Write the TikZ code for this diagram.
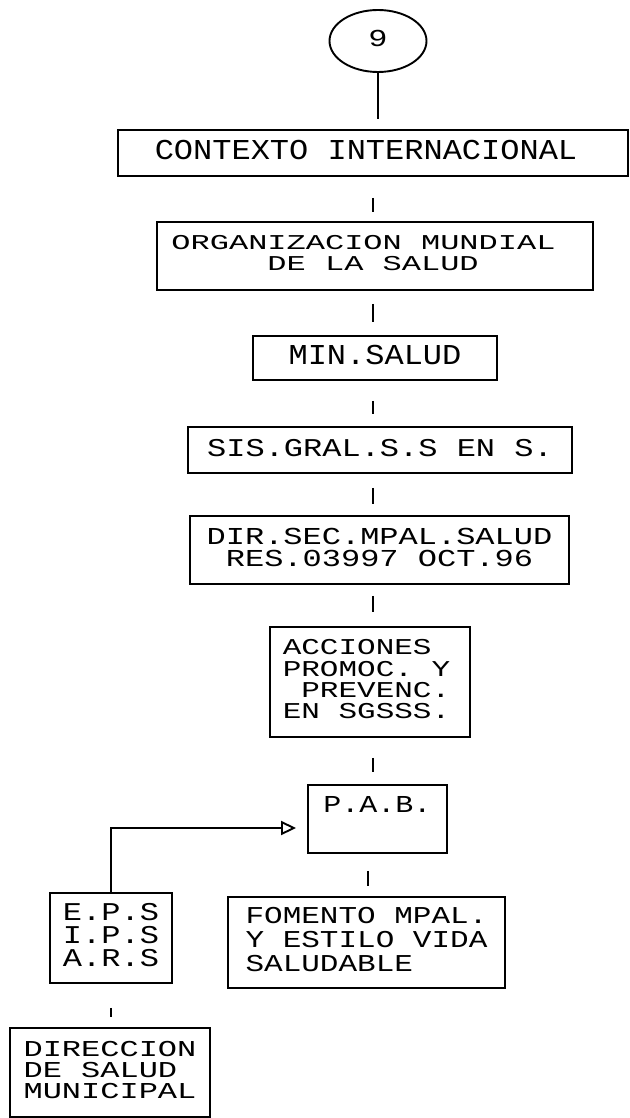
\documentclass[tikz,border=0pt]{standalone}
\usepackage{fontspec}
\usepackage{graphicx}
\usetikzlibrary{shapes.geometric,arrows.meta}
\newfontfamily\dmfont{Liberation Mono}
% size, baselineskip, yscale, left pad, right pad, text
\newcommand{\dm}[6]{{\dmfont\fontsize{#1}{#2}\selectfont\scalebox{1}[#3]{\begin{tabular}{@{\hspace{#4}}l@{\hspace{#5}}}#6\end{tabular}}}}
\tikzset{
  box/.style={draw, rectangle, inner sep=0pt, line width=1.9pt},
  oval/.style={draw, ellipse, inner sep=0pt, line width=1.9pt},
  link/.style={line width=1.9pt},
  flow/.style={line width=1.9pt, -{Triangle[open,length=15pt,width=14pt]}}
}
\begin{document}
\begin{tikzpicture}[x=1pt, y=-1pt]
\path[use as bounding box] (0,0) rectangle (629,1118);
\coordinate (sp) at (373,0);
\coordinate (sp2) at (368,0);

\node[oval, minimum width=97pt, minimum height=62pt] (n9) at (378,41) {\dm{32}{38}{0.76}{0pt}{0pt}{9}};
\node[box, minimum width=510pt, minimum height=46pt] (ctx) at (373,153) {\dm{32}{38}{0.9}{0pt}{14pt}{CONTEXTO INTERNACIONAL}};
\node[box, minimum width=436pt, minimum height=68pt] (oms) at (375,256) {\dm{32}{32}{0.66}{0pt}{23pt}{ORGANIZACION MUNDIAL\\\phantom{XXXXX}DE LA SALUD}};
\node[box, minimum width=244pt, minimum height=44pt] (min) at (375,358) {\dm{32}{38}{0.9}{0pt}{0pt}{MIN.SALUD}};
\node[box, minimum width=384pt, minimum height=46pt] (sis) at (380,450) {\dm{32}{38}{0.8}{0pt}{0pt}{SIS.GRAL.S.S EN S.}};
\node[box, minimum width=379pt, minimum height=68pt] (dir) at (379.5,550) {\dm{32}{26.3}{0.76}{0pt}{0pt}{DIR.SEC.MPAL.SALUD\\\phantom{X}RES.03997 OCT.96}};
\node[box, minimum width=200pt, minimum height=110pt] (acc) at (370,682) {\dm{31}{27.4}{0.73}{0pt}{7pt}{ACCIONES\\PROMOC. Y\\\phantom{X}PREVENC.\\EN SGSSS.}};
\node[box, minimum width=139pt, minimum height=68pt] (pab) at (377.5,819) {\dm{30}{27}{0.81}{0pt}{0pt}{P.A.B.\\\mbox{}}};
\node[box, minimum width=122pt, minimum height=90pt] (eps) at (111,938) {\dm{32}{26}{0.8}{0pt}{0pt}{E.P.S\\I.P.S\\A.R.S}};
\node[box, minimum width=277pt, minimum height=91pt] (fom) at (366.5,942.5) {\dm{31}{30.7}{0.78}{0pt}{0pt}{FOMENTO MPAL.\\Y ESTILO VIDA\\SALUDABLE}};
\node[box, minimum width=200pt, minimum height=89pt] (dsm) at (110,1072.5) {\dm{32}{27.5}{0.71}{0pt}{0pt}{DIRECCION\\DE SALUD\\MUNICIPAL}};

\draw[link, shorten >=10pt] (n9.south) -- (n9.south |- ctx.north);
\draw[link, shorten <=21pt, shorten >=9pt] (ctx.south -| sp) -- (oms.north -| sp);
\draw[link, shorten <=13pt, shorten >=13pt] (oms.south -| sp) -- (min.north -| sp);
\draw[link, shorten <=20pt, shorten >=12pt] (min.south -| sp) -- (sis.north -| sp);
\draw[link, shorten <=14pt, shorten >=11pt] (sis.south -| sp) -- (dir.north -| sp);
\draw[link, shorten <=11pt, shorten >=14pt] (dir.south -| sp) -- (acc.north -| sp);
\draw[link, shorten <=20pt, shorten >=12pt] (acc.south -| sp) -- (pab.north -| sp);
\draw[link, shorten <=17pt, shorten >=10pt] (pab.south -| sp2) -- (fom.north -| sp2);
\draw[link, shorten <=24pt, shorten >=10pt] (eps.south) -- (eps.south |- dsm.north);
\draw[flow, shorten >=11pt] (eps.north) |- ([yshift=-9pt]pab.west);
\end{tikzpicture}
\end{document}
